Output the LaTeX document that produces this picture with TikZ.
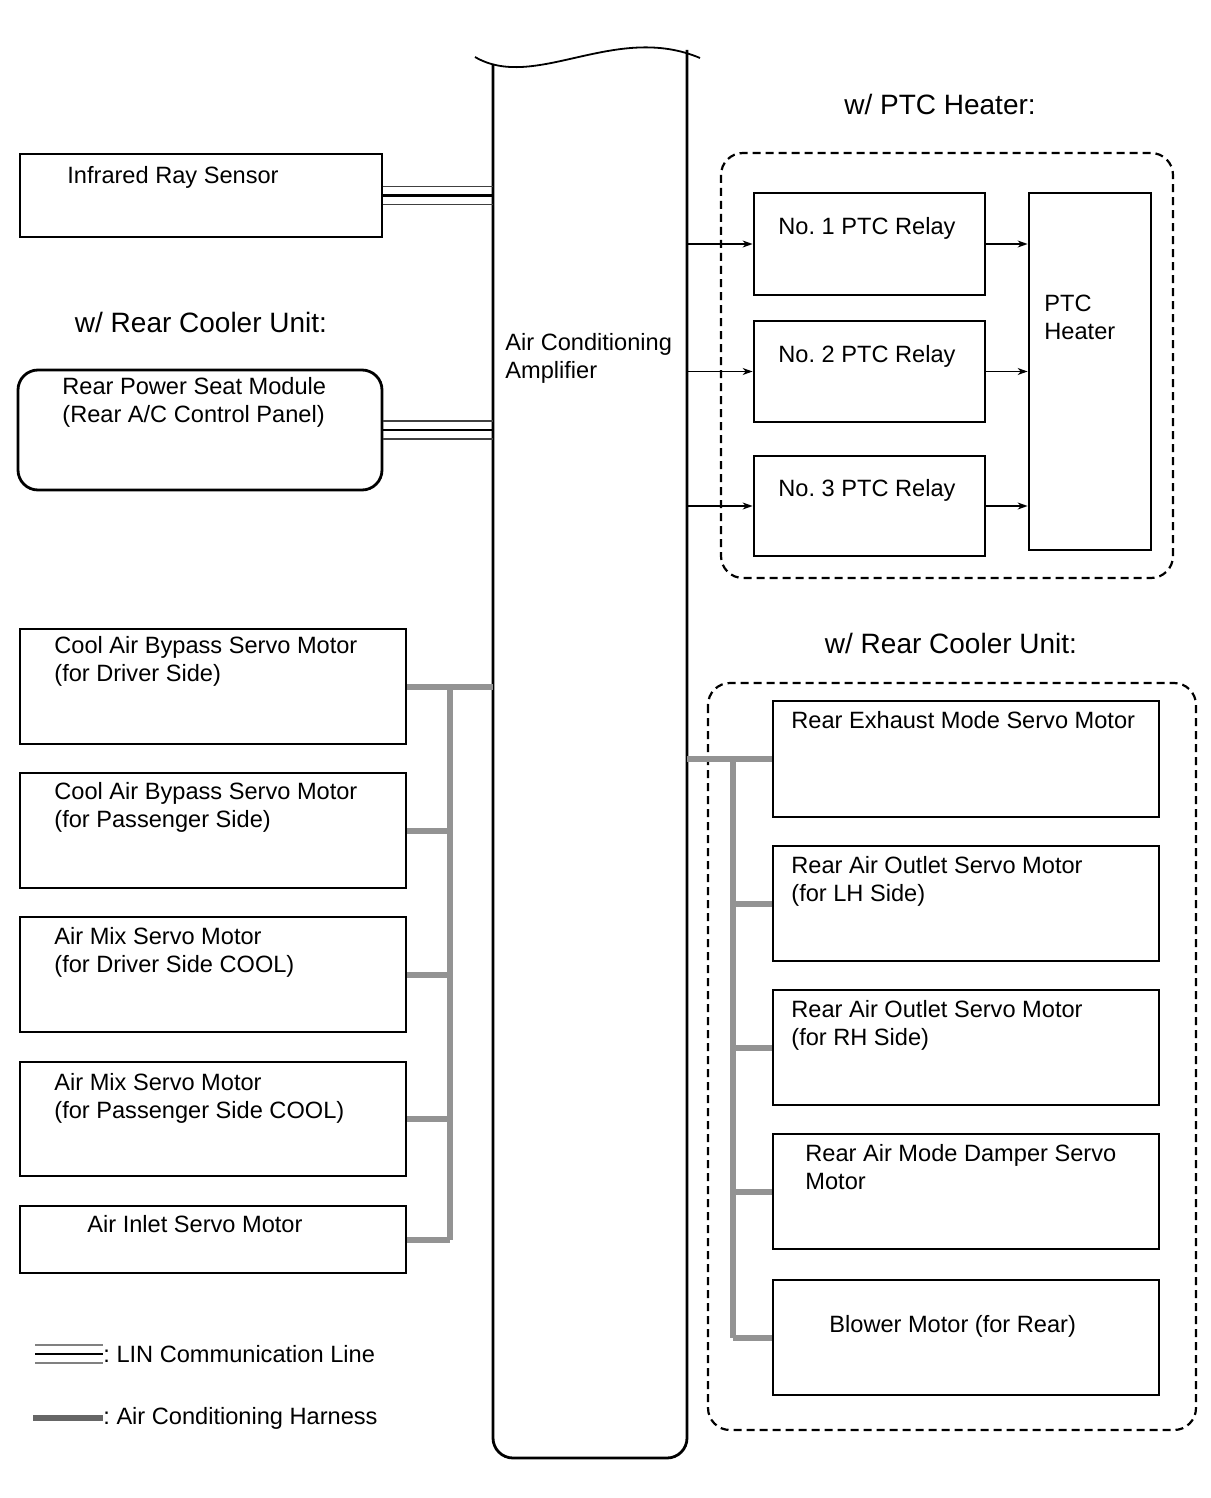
\documentclass[tikz,border=0pt]{standalone}
\usepackage{fontspec}
\setmainfont{Liberation Sans}
\usetikzlibrary{arrows.meta}
\frenchspacing

\begin{document}
\begin{tikzpicture}[x=0.5pt,y=-0.5pt,>={Stealth[length=5pt,width=3.5pt]},
	box/.style={draw,line width=1.4pt,inner sep=0pt},
	lbl/.style={anchor=north west,inner sep=0pt,align=left,font=\fontsize{11.8}{14}\selectfont},
	head/.style={inner sep=0pt,font=\fontsize{14}{16}\selectfont},
	group/.style={draw,dash pattern=on 4pt off 2.5pt,line width=1.1pt,rounded corners=11pt},
	harness/.style={draw=gray!85,line width=3pt},
	linout/.style={draw=black!75,line width=0.9pt},
	linmid/.style={draw=black,line width=1.4pt},
	sig/.style={->,line width=0.7pt}]
	
	\useasboundingbox (0,0) rectangle (1210,1498);
	
	% amplifier
	\node[minimum width=97pt,minimum height=700pt,inner sep=0pt] (amp) at (590,760) {};
	\draw[line width=1.4pt,rounded corners=10pt] (493,64) -- (493,1458) -- (687,1458) -- (687,50);
	\draw[line width=0.9pt] (475,57) .. controls (535,92) and (615,22) .. (700,58);
	\node[lbl] (amp-t) at (505,333) {Air Conditioning\\Amplifier};
	
	% left side
	\node[box,minimum width=181pt,minimum height=41.5pt] (irs) at (201,195.5) {};
	\node[lbl] (irs-t) at (67,166) {Infrared Ray Sensor};
	\node[head] (rcu-l) at (201,322) {w/ Rear Cooler Unit:};
	\node[box,rounded corners=10pt,minimum width=182pt,minimum height=60pt] (rpsm) at (200,430) {};
	\node[lbl] (rpsm-t) at (62,377) {Rear Power Seat Module\\(Rear A/C Control Panel)};
	
	\node[box,minimum width=193pt,minimum height=57.5pt] (cabd) at (213,686.5) {};
	\node[box,minimum width=193pt,minimum height=57.5pt] (cabp) at (213,830.5) {};
	\node[box,minimum width=193pt,minimum height=57.5pt] (amd) at (213,974.5) {};
	\node[box,minimum width=193pt,minimum height=57pt] (ams) at (213,1119) {};
	\node[box,minimum width=193pt,minimum height=33.5pt] (ais) at (213,1239.5) {};
	\node[lbl] (cabd-t) at (54,636) {Cool Air Bypass Servo Motor\\(for Driver Side)};
	\node[lbl] (cabp-t) at (54,782) {Cool Air Bypass Servo Motor\\(for Passenger Side)};
	\node[lbl] (amd-t) at (54,927) {Air Mix Servo Motor\\(for Driver Side COOL)};
	\node[lbl] (ams-t) at (54,1073) {Air Mix Servo Motor\\(for Passenger Side COOL)};
	\node[lbl] (ais-t) at (87,1215) {Air Inlet Servo Motor};
	
	% PTC heater group
	\node[head] (ptc-h) at (940,104) {w/ PTC Heater:};
	\draw[group] (721,153) rectangle (1173,578);
	\node[box,minimum width=115.5pt,minimum height=51pt] (r1) at (869.5,244) {};
	\node[box,minimum width=115.5pt,minimum height=50.5pt] (r2) at (869.5,371.5) {};
	\node[box,minimum width=115.5pt,minimum height=50pt] (r3) at (869.5,506) {};
	\node[box,minimum width=61pt,minimum height=178.5pt] (heat) at (1090,371.5) {};
	\node[lbl] (r1-t) at (778,217) {No. 1 PTC Relay};
	\node[lbl] (r2-t) at (778,345) {No. 2 PTC Relay};
	\node[lbl] (r3-t) at (778,479) {No. 3 PTC Relay};
	\node[lbl] (heat-t) at (1044,295) {PTC\\Heater};
	
	% rear cooler group
	\node[head] (rcu-r) at (951,643) {w/ Rear Cooler Unit:};
	\draw[group] (708,683) rectangle (1196,1430);
	\node[box,minimum width=193pt,minimum height=58pt] (rem) at (966,759) {};
	\node[box,minimum width=193pt,minimum height=57.5pt] (raol) at (966,903.5) {};
	\node[box,minimum width=193pt,minimum height=57.5pt] (raor) at (966,1047.5) {};
	\node[box,minimum width=193pt,minimum height=57.5pt] (ramd) at (966,1191.5) {};
	\node[box,minimum width=193pt,minimum height=57.5pt] (blw) at (966,1337.5) {};
	\node[lbl] (rem-t) at (791,711) {Rear Exhaust Mode Servo Motor};
	\node[lbl] (raol-t) at (791,856) {Rear Air Outlet Servo Motor\\(for LH Side)};
	\node[lbl] (raor-t) at (791,1000) {Rear Air Outlet Servo Motor\\(for RH Side)};
	\node[lbl] (ramd-t) at (805,1144) {Rear Air Mode Damper Servo\\Motor};
	\node[lbl] (blw-t) at (829,1315) {Blower Motor (for Rear)};
	
	% LIN lines
	\foreach \n in {irs,rpsm} {
		\draw[linout] ([yshift=4.5pt]\n.east) -- ([yshift=4.5pt]\n.east -| amp.west);
		\draw[linmid] (\n.east) -- (\n.east -| amp.west);
		\draw[linout] ([yshift=-4.5pt]\n.east) -- ([yshift=-4.5pt]\n.east -| amp.west);
	}
	
	% harness left
	\coordinate (lbus) at (450,0);
	\draw[harness] (cabd.east) -- (cabd.east -| amp.west);
	\draw[harness] (cabd.east -| lbus) -- (ais.east -| lbus);
	\foreach \n in {cabp,amd,ams,ais}
		\draw[harness] (\n.east) -- (\n.east -| lbus);
	
	% harness right
	\coordinate (rbus) at (733,0);
	\draw[harness] (rem.west) -- (rem.west -| amp.east);
	\draw[harness] (rem.west -| rbus) -- (blw.west -| rbus);
	\foreach \n in {raol,raor,ramd,blw}
		\draw[harness] (\n.west) -- (\n.west -| rbus);
	
	% PTC signals
	\foreach \n in {r1,r2,r3} {
		\draw[sig] (\n.west -| amp.east) -- (\n.west);
		\draw[sig] (\n.east) -- (\n.east -| heat.west);
	}
	
	% legend
	\node[lbl,anchor=west] (leg-lin) at (103,1354) {: LIN Communication Line};
	\node[lbl,anchor=west] (leg-har) at (103,1418) {: Air Conditioning Harness};
	\coordinate (leg-a) at (35,1354);
	\coordinate (leg-b) at (33,1418);
	\draw[linout,draw=gray] ([yshift=4.5pt]leg-a) -- ([yshift=4.5pt]leg-a -| leg-lin.west);
	\draw[linmid] (leg-a) -- (leg-lin.west);
	\draw[linout,draw=gray] ([yshift=-4.5pt]leg-a) -- ([yshift=-4.5pt]leg-a -| leg-lin.west);
	\draw[harness,draw=black!60] (leg-b) -- (leg-har.west);
\end{tikzpicture}
\end{document}
